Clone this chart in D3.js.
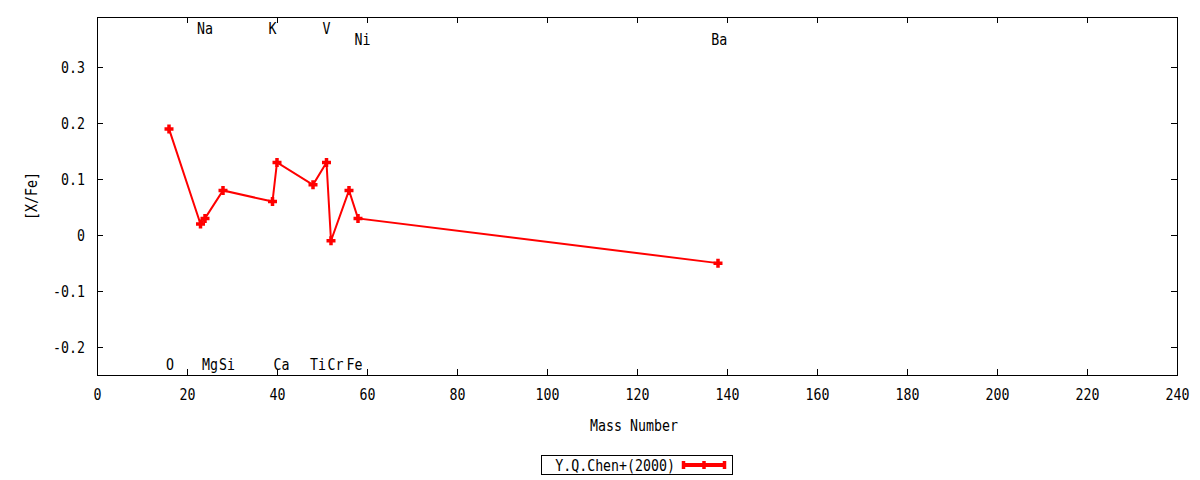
<!DOCTYPE html>
<meta charset="utf-8">

<style type="text/css">
body { margin: 0; background: #fff; }

/* gnuplot-like look */
text {
    font-family: "DejaVu Sans Mono", monospace;
    font-size: 16px;
    fill: #000;
}

.line {
    fill: none;
    stroke: #ff0000;
    stroke-width: 2px;
}

.dot {
    fill: none;
    stroke: #ff0000;
    stroke-width: 3.5px;
}

.axis path, .axis line {
    stroke: #000;
    stroke-width: 1px;
    shape-rendering: crispEdges;
}
</style>
<body>
</body>

<script src="https://cdn.jsdelivr.net/npm/d3@7"></script>
<script>

// element abundances [X/Fe] vs mass number
var elements = ["O", "Na", "Mg", "Si", "K", "Ca", "Ti", "V", "Cr", "Fe", "Ni", "Ba"];
var massNumber = [16, 23, 24, 28, 39, 40, 48, 51, 52, 56, 58, 138];
var xFe = [0.19, 0.02, 0.03, 0.08, 0.06, 0.13, 0.09, 0.13, -0.01, 0.08, 0.03, -0.05];

// where the element names sit (data units)
var labelX = [16.2, 24.0, 25.1, 28.9, 39.0, 41.0, 49.1, 51.0, 53.0, 57.2, 59.0, 138.3];
var labelY = [-0.23, 0.37, -0.23, -0.23, 0.37, -0.23, -0.23, 0.37, -0.23, -0.23, 0.35, 0.35];

var xTicks = [0, 20, 40, 60, 80, 100, 120, 140, 160, 180, 200, 220, 240];
var yTicks = [-0.2, -0.1, 0, 0.1, 0.2, 0.3];
var seriesName = "Y.Q.Chen+(2000)";

var margin = {top: 17, right: 23, bottom: 105, left: 97},
width = 1200 - margin.left - margin.right,
height = 480 - margin.top - margin.bottom;

var squeeze = "scale(0.83,1)";

var root = d3.select("body")
    .append("svg")
    .attr("width", 1200)
    .attr("height", 480);

root.append("rect")
    .attr("width", 1200)
    .attr("height", 480)
    .attr("fill", "#fff");

var svg = root.append("g")
    .attr("transform", "translate(" + margin.left + "," + margin.top + ")");

var x = d3.scaleLinear().domain([0, 240]).range([0, width]);
var y = d3.scaleLinear().domain([-0.25, 0.39]).range([height, 0]);

var data = massNumber.map(function(m, i) {
    return {name: elements[i], mass: m, value: xFe[i]};
});

// axes, ticks pointing inside like gnuplot
var xAxis = svg.append("g")
    .attr("class", "x axis")
    .attr("transform", "translate(0," + height + ")")
    .call(d3.axisBottom(x).tickValues(xTicks).tickSize(-6).tickPadding(13.5).tickSizeOuter(0));
xAxis.selectAll("text").attr("transform", squeeze);

var yAxis = svg.append("g")
    .attr("class", "y axis")
    .call(d3.axisLeft(y).tickValues(yTicks).tickSize(-6).tickSizeOuter(0)
        .tickFormat(function(d) { return d === 0 ? "0" : d.toFixed(1); }));
yAxis.selectAll("text")
    .attr("x", null)
    .attr("transform", "translate(-12,0) " + squeeze);

// mirrored ticks on top and right
svg.append("g")
    .attr("class", "axis")
    .call(d3.axisTop(x).tickValues(xTicks).tickSize(-6).tickSizeOuter(0).tickFormat(""));
svg.append("g")
    .attr("class", "axis")
    .attr("transform", "translate(" + width + ",0)")
    .call(d3.axisRight(y).tickValues(yTicks).tickSize(-6).tickSizeOuter(0).tickFormat(""));

svg.selectAll(".axis text").style("font-size", "16px").style("font-family", "DejaVu Sans Mono");

// frame
svg.append("rect")
    .attr("width", width)
    .attr("height", height)
    .attr("fill", "none")
    .attr("stroke", "#000")
    .attr("stroke-width", 1)
    .attr("shape-rendering", "crispEdges");

// axis titles
svg.append("text")
    .attr("transform", "translate(" + (width / 2 - 3) + "," + (height + 50) + ") " + squeeze)
    .attr("text-anchor", "middle")
    .attr("dy", "0.36em")
    .text("Mass Number");

svg.append("text")
    .attr("transform", "translate(" + (-66) + "," + (height / 2) + ") rotate(-90) " + squeeze)
    .attr("text-anchor", "middle")
    .attr("dy", "0.36em")
    .text("[X/Fe]");

// element labels
svg.selectAll(".elabel")
    .data(elements)
    .enter().append("text")
    .attr("class", "elabel")
    .attr("transform", function(d, i) {
        return "translate(" + x(labelX[i]) + "," + y(labelY[i]) + ") " + squeeze;
    })
    .attr("text-anchor", "middle")
    .attr("dy", "0.36em")
    .text(function(d) { return d; });

// the line
var valueline = d3.line()
    .x(function(d) { return x(d.mass); })
    .y(function(d) { return y(d.value); });

svg.append("path")
    .data([data])
    .attr("class", "line")
    .attr("d", valueline);

// plus markers
svg.selectAll(".dot")
    .data(data)
    .enter().append("path")
    .attr("class", "dot")
    .attr("d", "M-4.5,0H4.5M0,-4.5V4.5")
    .attr("transform", function(d) { return "translate(" + x(d.mass) + "," + y(d.value) + ")"; });

// legend below the plot
var legend = root.append("g")
    .attr("transform", "translate(541,455)");

legend.append("rect")
    .attr("width", 191)
    .attr("height", 19)
    .attr("fill", "#fff")
    .attr("stroke", "#000")
    .attr("stroke-width", 1)
    .attr("shape-rendering", "crispEdges");

legend.append("text")
    .attr("transform", "translate(134,10) " + squeeze)
    .attr("text-anchor", "end")
    .attr("dy", "0.36em")
    .text(seriesName);

legend.append("path")
    .attr("d", "M141,10H184")
    .attr("stroke", "#ff0000")
    .attr("stroke-width", 4);

legend.append("path")
    .attr("d", "M142.5,6V14M163,6V14M183.5,6V14")
    .attr("stroke", "#ff0000")
    .attr("stroke-width", 3.5);

</script>
